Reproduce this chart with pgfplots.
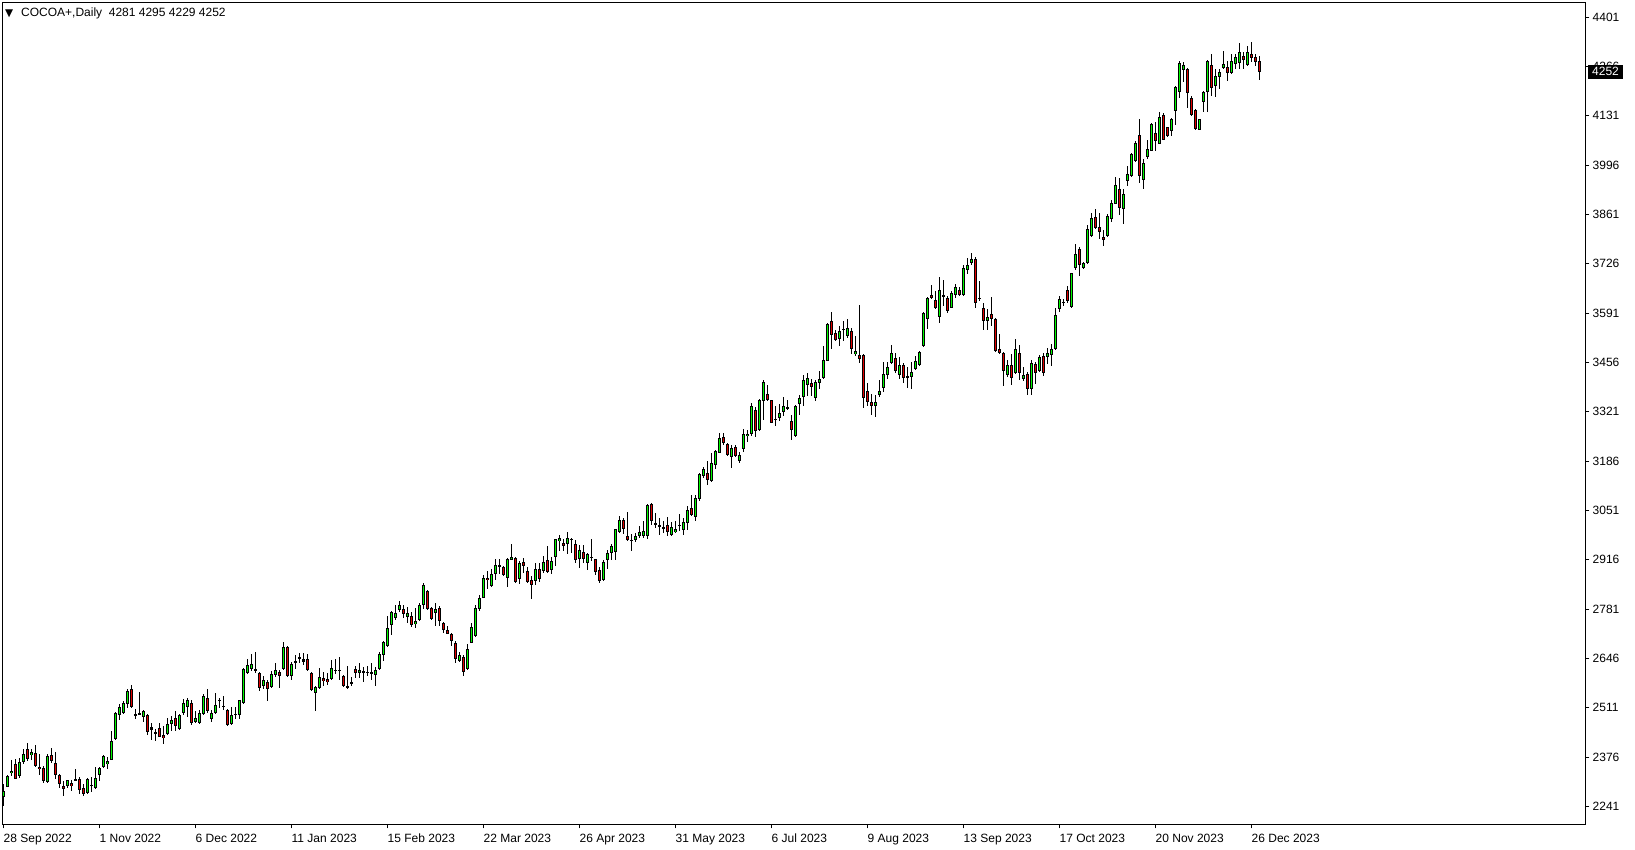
\documentclass[border=0pt]{standalone}
\usepackage{pgfplots}
\usepackage{pgfplotstable}
\usepackage{fontspec}
\pgfplotsset{compat=1.18}
\setmainfont{Liberation Sans}
\newfontfamily\dejavu{DejaVu Sans}
\definecolor{bull}{RGB}{0,250,0}
\definecolor{bear}{RGB}{225,0,0}
\pgfplotstableread{
i O H L C
0 2267 2301 2242 2283
1 2294 2328 2294 2324
2 2332 2369 2324 2339
3 2356 2372 2316 2316
4 2324 2374 2319 2363
5 2363 2399 2358 2385
6 2399 2415 2365 2371
7 2381 2399 2369 2390
8 2388 2408 2349 2351
9 2350 2383 2328 2343
10 2345 2351 2304 2310
11 2307 2383 2304 2378
12 2382 2401 2360 2365
13 2360 2389 2315 2328
14 2328 2330 2292 2301
15 2298 2310 2269 2289
16 2296 2314 2292 2312
17 2304 2312 2283 2296
18 2312 2342 2310 2317
19 2317 2321 2274 2285
20 2290 2301 2269 2275
21 2278 2319 2276 2315
22 2298 2322 2281 2299
23 2292 2349 2289 2319
24 2327 2349 2310 2347
25 2349 2381 2347 2379
26 2357 2376 2344 2364
27 2369 2447 2367 2421
28 2426 2499 2424 2497
29 2490 2522 2478 2513
30 2497 2530 2494 2524
31 2521 2561 2510 2558
32 2561 2572 2510 2513
33 2494 2508 2481 2488
34 2494 2553 2490 2495
35 2485 2506 2473 2502
36 2491 2494 2436 2445
37 2457 2468 2424 2451
38 2444 2454 2420 2439
39 2456 2468 2430 2431
40 2435 2460 2412 2427
41 2439 2483 2437 2467
42 2467 2489 2446 2478
43 2484 2501 2447 2460
44 2454 2494 2451 2491
45 2497 2536 2492 2524
46 2513 2538 2485 2533
47 2524 2533 2465 2469
48 2471 2503 2469 2483
49 2469 2506 2467 2497
50 2494 2549 2491 2544
51 2538 2562 2497 2501
52 2480 2506 2471 2497
53 2497 2552 2495 2519
54 2529 2538 2511 2533
55 2512 2543 2506 2517
56 2506 2508 2461 2463
57 2467 2513 2465 2492
58 2492 2513 2479 2493
59 2492 2533 2481 2531
60 2524 2620 2522 2617
61 2606 2645 2602 2629
62 2616 2657 2611 2632
63 2617 2664 2606 2611
64 2606 2608 2556 2565
65 2570 2597 2561 2588
66 2582 2588 2529 2563
67 2568 2611 2566 2602
68 2600 2634 2595 2615
69 2608 2614 2565 2599
70 2616 2691 2614 2678
71 2678 2679 2595 2597
72 2597 2636 2586 2632
73 2637 2654 2616 2638
74 2645 2661 2634 2650
75 2637 2661 2629 2643
76 2643 2659 2611 2614
77 2606 2609 2556 2559
78 2552 2570 2502 2568
79 2565 2620 2562 2595
80 2591 2608 2570 2583
81 2590 2606 2574 2581
82 2590 2641 2588 2620
83 2612 2643 2604 2615
84 2612 2650 2586 2615
85 2599 2601 2568 2570
86 2570 2624 2562 2565
87 2579 2595 2570 2580
88 2618 2624 2593 2606
89 2606 2634 2593 2615
90 2609 2622 2581 2610
91 2609 2624 2599 2608
92 2606 2634 2588 2607
93 2600 2623 2570 2615
94 2617 2663 2615 2659
95 2655 2693 2638 2691
96 2681 2761 2677 2729
97 2737 2775 2711 2773
98 2757 2793 2752 2770
99 2778 2804 2772 2791
100 2780 2793 2757 2768
101 2759 2787 2743 2769
102 2763 2772 2732 2737
103 2739 2784 2729 2749
104 2750 2798 2748 2793
105 2793 2853 2781 2848
106 2830 2832 2778 2780
107 2785 2787 2751 2753
108 2769 2798 2736 2782
109 2785 2789 2735 2748
110 2744 2745 2716 2724
111 2723 2735 2712 2714
112 2714 2716 2680 2693
113 2689 2693 2634 2645
114 2639 2664 2637 2654
115 2651 2654 2598 2610
116 2616 2686 2614 2671
117 2689 2742 2687 2733
118 2707 2791 2705 2785
119 2780 2819 2777 2812
120 2812 2873 2810 2867
121 2867 2885 2837 2860
122 2844 2890 2842 2876
123 2878 2917 2860 2903
124 2896 2917 2876 2901
125 2897 2899 2871 2874
126 2867 2921 2842 2919
127 2915 2958 2914 2924
128 2921 2923 2853 2856
129 2862 2912 2849 2908
130 2911 2921 2880 2899
131 2885 2897 2853 2856
132 2860 2872 2808 2847
133 2858 2906 2846 2890
134 2890 2906 2855 2862
135 2885 2926 2879 2910
136 2914 2954 2879 2883
137 2887 2924 2876 2912
138 2923 2974 2899 2972
139 2967 2983 2940 2975
140 2963 2972 2940 2954
141 2958 2992 2931 2976
142 2972 2976 2934 2973
143 2958 2969 2908 2914
144 2917 2956 2894 2942
145 2938 2956 2908 2919
146 2908 2935 2888 2931
147 2924 2974 2913 2921
148 2917 2919 2874 2883
149 2888 2897 2853 2858
150 2861 2915 2858 2910
151 2914 2943 2892 2935
152 2935 2960 2914 2955
153 2937 3001 2915 2999
154 2993 3037 2990 3025
155 3024 3031 2987 3001
156 2981 3047 2967 2970
157 2969 2986 2940 2970
158 2971 2988 2965 2980
159 2980 3008 2976 2993
160 2980 3023 2976 2996
161 2982 3069 2973 3067
162 3069 3072 3012 3022
163 3017 3044 3003 3011
164 3010 3029 2983 3005
165 3001 3022 2988 3007
166 3011 3033 2980 2992
167 2983 3020 2982 3006
168 2992 3023 2988 2999
169 3008 3042 2994 3012
170 2997 3029 2985 3020
171 3017 3063 2997 3053
172 3058 3092 3035 3038
173 3033 3092 3022 3085
174 3083 3154 3076 3151
175 3145 3170 3140 3165
176 3154 3186 3120 3133
177 3131 3208 3128 3181
178 3174 3216 3165 3213
179 3208 3263 3207 3249
180 3252 3263 3231 3236
181 3233 3236 3199 3202
182 3197 3229 3167 3222
183 3225 3229 3197 3199
184 3186 3210 3180 3202
185 3218 3274 3210 3259
186 3254 3272 3238 3261
187 3259 3345 3254 3338
188 3327 3334 3252 3268
189 3270 3357 3268 3354
190 3350 3409 3298 3402
191 3371 3395 3350 3353
192 3352 3354 3289 3291
193 3302 3338 3283 3298
194 3304 3343 3297 3318
195 3321 3362 3309 3336
196 3335 3354 3327 3329
197 3297 3311 3245 3270
198 3254 3340 3252 3338
199 3343 3368 3313 3359
200 3362 3423 3336 3409
201 3393 3426 3364 3414
202 3400 3411 3365 3389
203 3359 3409 3350 3403
204 3400 3432 3384 3412
205 3414 3500 3411 3464
206 3461 3564 3459 3561
207 3569 3594 3493 3532
208 3537 3546 3514 3517
209 3519 3555 3500 3541
210 3546 3569 3514 3547
211 3528 3576 3523 3549
212 3541 3551 3478 3493
213 3479 3528 3473 3486
214 3477 3612 3455 3466
215 3477 3479 3332 3359
216 3377 3400 3336 3348
217 3349 3370 3311 3336
218 3336 3366 3307 3348
219 3366 3407 3362 3377
220 3387 3458 3376 3425
221 3421 3457 3411 3444
222 3455 3505 3453 3482
223 3469 3482 3426 3432
224 3423 3471 3412 3448
225 3450 3455 3400 3414
226 3416 3444 3387 3417
227 3417 3458 3382 3430
228 3438 3473 3435 3461
229 3448 3487 3446 3484
230 3501 3594 3499 3590
231 3576 3635 3548 3633
232 3641 3669 3630 3633
233 3628 3651 3603 3605
234 3580 3690 3564 3653
235 3638 3683 3610 3639
236 3633 3637 3590 3596
237 3606 3651 3604 3647
238 3640 3671 3633 3663
239 3653 3663 3638 3640
240 3640 3722 3638 3715
241 3709 3742 3697 3724
242 3729 3756 3724 3740
243 3740 3745 3604 3619
244 3631 3679 3624 3632
245 3606 3618 3546 3569
246 3569 3601 3545 3580
247 3589 3636 3556 3576
248 3576 3578 3484 3487
249 3493 3533 3478 3483
250 3483 3485 3391 3432
251 3421 3464 3417 3448
252 3448 3478 3394 3414
253 3426 3519 3424 3492
254 3481 3503 3408 3428
255 3410 3444 3405 3421
256 3425 3430 3367 3384
257 3384 3462 3367 3455
258 3453 3457 3396 3428
259 3432 3476 3430 3472
260 3473 3481 3419 3426
261 3472 3496 3451 3481
262 3476 3507 3446 3494
263 3494 3605 3490 3585
264 3601 3638 3595 3629
265 3620 3631 3611 3621
266 3653 3665 3620 3624
267 3609 3702 3606 3700
268 3714 3779 3709 3752
269 3766 3772 3693 3723
270 3715 3732 3711 3727
271 3729 3831 3725 3820
272 3802 3866 3800 3850
273 3855 3875 3820 3825
274 3828 3866 3793 3814
275 3800 3818 3775 3791
276 3802 3861 3800 3857
277 3849 3901 3840 3893
278 3891 3964 3889 3941
279 3930 3962 3859 3880
280 3877 3930 3834 3916
281 3953 3994 3939 3971
282 3966 4030 3964 4026
283 4007 4062 4005 4057
284 4078 4121 3948 3966
285 3955 4012 3932 4003
286 4019 4064 4014 4041
287 4036 4112 4035 4108
288 4083 4114 4035 4062
289 4055 4141 4053 4129
290 4134 4139 4066 4066
291 4100 4100 4073 4077
292 4089 4125 4075 4123
293 4144 4212 4107 4210
294 4197 4280 4180 4276
295 4256 4278 4223 4271
296 4259 4262 4153 4194
297 4180 4185 4130 4132
298 4148 4150 4093 4096
299 4093 4123 4092 4121
300 4168 4200 4141 4196
301 4196 4284 4141 4282
302 4269 4301 4185 4207
303 4212 4258 4183 4239
304 4237 4259 4205 4250
305 4262 4308 4259 4274
306 4265 4280 4226 4248
307 4248 4301 4246 4282
308 4274 4301 4259 4292
309 4276 4329 4259 4305
310 4294 4305 4259 4285
311 4269 4321 4267 4306
312 4299 4333 4279 4288
313 4292 4301 4267 4279
314 4281 4295 4229 4252
}\candles
\pgfplotsset{
  candlepart/.style={mark=none, no markers, mark size=0pt, only marks, forget plot,
    error bars/y dir=both, error bars/y explicit, error bars/error mark=none},
}
\begin{document}
\begin{tikzpicture}
\begin{axis}[
  scale only axis,
  width=1583pt, height=822pt,
  xmin=-0.25, xmax=395.5,
  ymin=2191.4, ymax=4441.2,
  clip=false,
  axis line style={black, line width=1pt},
  tick align=outside,
  major tick length=4pt,
  tick style={black, line width=1pt},
  xtick pos=bottom,
  ytick pos=right,
  yticklabel pos=right,
  xtick={0,24,48,72,96,120,144,168,192,216,240,264,288,312},
  xticklabels={28 Sep 2022,1 Nov 2022,6 Dec 2022,11 Jan 2023,15 Feb 2023,22 Mar 2023,26 Apr 2023,31 May 2023,6 Jul 2023,9 Aug 2023,13 Sep 2023,17 Oct 2023,20 Nov 2023,26 Dec 2023},
  ytick={2241,2376,2511,2646,2781,2916,3051,3186,3321,3456,3591,3726,3861,3996,4131,4266,4401},
  yticklabels={2241,2376,2511,2646,2781,2916,3051,3186,3321,3456,3591,3726,3861,3996,4131,4266,4401},
  xticklabel style={anchor=north west, inner sep=0pt, xshift=0pt, yshift=-5pt, font=\fontsize{12}{14}\selectfont},
  yticklabel style={anchor=west, inner sep=0pt, xshift=3pt, font=\fontsize{12}{14}\selectfont},
]
% wicks
\addplot[candlepart, error bars/error bar style={line width=1pt, black, line cap=butt}]
  table[x=i, y expr={(\thisrow{H}+\thisrow{L})/2}, y error expr={(\thisrow{H}-\thisrow{L})/2}] {\candles};
% body outlines
\addplot[candlepart, error bars/error bar style={line width=3pt, black, line cap=butt}]
  table[x=i, y expr={(\thisrow{O}+\thisrow{C})/2}, y error expr={max(abs(\thisrow{C}-\thisrow{O})/2,1.37)}] {\candles};
% bull fills
\addplot[candlepart, unbounded coords=discard, error bars/error bar style={line width=1pt, bull, line cap=butt}]
  table[x=i, y expr={\thisrow{C}-\thisrow{O}>6 ? (\thisrow{O}+\thisrow{C})/2 : nan}, y error expr={abs(\thisrow{C}-\thisrow{O})/2-2.74}] {\candles};
% bear fills
\addplot[candlepart, unbounded coords=discard, error bars/error bar style={line width=1pt, bear, line cap=butt}]
  table[x=i, y expr={\thisrow{O}-\thisrow{C}>6 ? (\thisrow{O}+\thisrow{C})/2 : nan}, y error expr={abs(\thisrow{C}-\thisrow{O})/2-2.74}] {\candles};
% last price box
\node[fill=black, text=white, anchor=west, inner xsep=4.5pt, inner ysep=0pt, minimum height=14pt, xshift=2pt, font=\fontsize{12}{14}\selectfont] at (axis cs:395.5,4252) {4252};
\end{axis}
\node[anchor=west, inner sep=0pt, font=\dejavu\fontsize{10.5}{12}\selectfont] at (2.5pt,811pt) {▼};
\node[anchor=west, inner sep=0pt, font=\fontsize{12}{14}\selectfont] at (18.5pt,811pt) {COCOA+,Daily\ \ 4281 4295 4229 4252};
\pgfresetboundingbox
\path[use as bounding box] (-2.5pt,-25.5pt) rectangle (1632.5pt,824.5pt);
\end{tikzpicture}
\end{document}
